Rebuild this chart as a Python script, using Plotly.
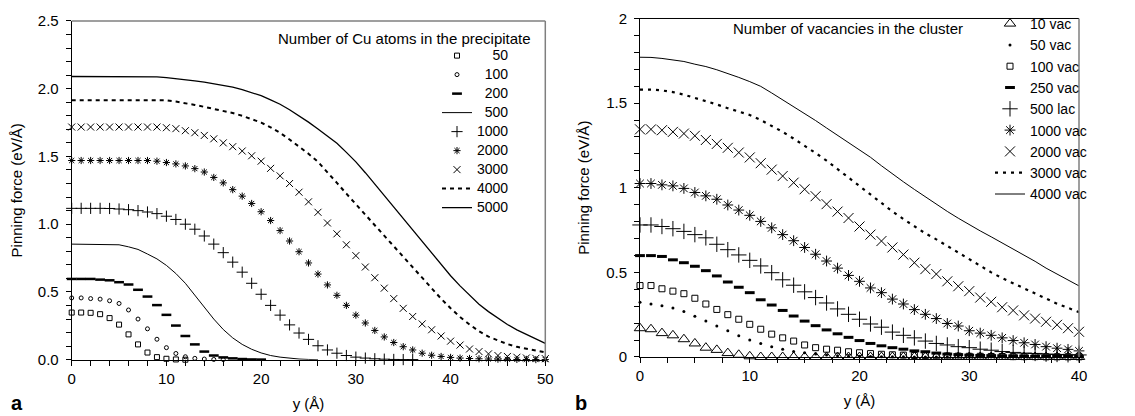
import plotly.graph_objects as go

# ---------------- data ----------------
# panel a: distance y (Å) and pinning force (eV/Å) for Cu precipitates
y_a = list(range(51))
cu_labels = ["50", "100", "200", "500", "1000", "2000", "3000", "4000", "5000"]
cu_50 = [0.348, 0.348, 0.346, 0.336, 0.307, 0.259, 0.187, 0.113, 0.053, 0.019, 0.007, 0.002, 0.0]
cu_100 = [0.456, 0.456, 0.451, 0.447, 0.435, 0.415, 0.367, 0.300, 0.228, 0.151, 0.089, 0.046, 0.022,
          0.010, 0.005, 0.002, 0.001]
cu_200 = [0.596, 0.596, 0.596, 0.591, 0.586, 0.572, 0.555, 0.516, 0.466, 0.403, 0.331, 0.252, 0.175,
          0.113, 0.060, 0.031, 0.017, 0.010, 0.005, 0.002, 0.001]
cu_500 = [0.853, 0.853, 0.852, 0.851, 0.850, 0.848, 0.833, 0.814, 0.780, 0.744, 0.696, 0.636, 0.564,
          0.473, 0.389, 0.300, 0.223, 0.161, 0.113, 0.077, 0.050, 0.031, 0.019, 0.010, 0.005, 0.002, 0.0]
cu_1000 = [1.117, 1.117, 1.117, 1.117, 1.116, 1.112, 1.107, 1.100, 1.090, 1.078, 1.059, 1.035, 1.000,
           0.963, 0.913, 0.853, 0.790, 0.720, 0.646, 0.564, 0.483, 0.401, 0.329, 0.257, 0.197, 0.150,
           0.103, 0.072, 0.048, 0.031, 0.019, 0.012, 0.007, 0.004, 0.002, 0.001, 0.001]
cu_2000 = [1.470, 1.470, 1.470, 1.470, 1.470, 1.470, 1.470, 1.470, 1.470, 1.465, 1.455, 1.445, 1.430,
           1.410, 1.385, 1.345, 1.305, 1.255, 1.207, 1.153, 1.092, 1.027, 0.953, 0.876, 0.797, 0.714,
           0.632, 0.552, 0.475, 0.401, 0.329, 0.271, 0.216, 0.168, 0.127, 0.096, 0.072, 0.048, 0.033,
           0.024, 0.017, 0.012, 0.009, 0.007, 0.005, 0.004, 0.003, 0.002, 0.002, 0.001, 0.001]
cu_3000 = [1.717, 1.717, 1.717, 1.717, 1.717, 1.717, 1.717, 1.717, 1.717, 1.717, 1.712, 1.705, 1.690,
           1.675, 1.655, 1.630, 1.600, 1.572, 1.540, 1.505, 1.465, 1.412, 1.357, 1.300, 1.236, 1.165,
           1.088, 1.009, 0.929, 0.848, 0.768, 0.684, 0.605, 0.528, 0.451, 0.379, 0.319, 0.264, 0.221,
           0.175, 0.137, 0.108, 0.079, 0.060, 0.043, 0.031, 0.024, 0.018, 0.013, 0.010, 0.008]
cu_4000 = [1.914, 1.914, 1.914, 1.914, 1.914, 1.914, 1.914, 1.914, 1.914, 1.914, 1.914, 1.905, 1.895,
           1.880, 1.866, 1.852, 1.837, 1.820, 1.800, 1.775, 1.750, 1.715, 1.674, 1.625, 1.575, 1.520,
           1.460, 1.385, 1.305, 1.225, 1.147, 1.070, 0.990, 0.910, 0.835, 0.755, 0.680, 0.600, 0.525,
           0.450, 0.380, 0.315, 0.260, 0.210, 0.170, 0.140, 0.115, 0.095, 0.080, 0.065, 0.055]
cu_5000 = [2.090, 2.090, 2.090, 2.090, 2.090, 2.090, 2.090, 2.090, 2.090, 2.087, 2.082, 2.075, 2.067,
           2.058, 2.048, 2.037, 2.025, 2.011, 1.993, 1.972, 1.948, 1.918, 1.885, 1.845, 1.800, 1.753,
           1.703, 1.652, 1.597, 1.530, 1.460, 1.380, 1.295, 1.210, 1.125, 1.040, 0.955, 0.870, 0.785,
           0.700, 0.620, 0.545, 0.475, 0.410, 0.355, 0.305, 0.260, 0.220, 0.185, 0.150, 0.120]

# panel b: vacancy clusters
y_b = list(range(41))
vac_labels = ["10 vac", "50 vac", "100 vac", "250 vac", "500 lac", "1000 vac", "2000 vac",
              "3000 vac", "4000 vac"]
vac_10 = [0.170, 0.164, 0.141, 0.128, 0.105, 0.080, 0.055, 0.042, 0.023, 0.013, 0.004] + [0.0] * 30
vac_50 = [0.323, 0.313, 0.303, 0.290, 0.269, 0.240, 0.212, 0.183, 0.155, 0.126, 0.101, 0.080, 0.061,
          0.046, 0.032, 0.025, 0.018, 0.012, 0.008, 0.005, 0.004, 0.003, 0.002, 0.002, 0.001] + [0.0] * 16
vac_100 = [0.422, 0.422, 0.403, 0.389, 0.374, 0.347, 0.313, 0.281, 0.250, 0.223, 0.193, 0.164, 0.135,
           0.113, 0.094, 0.071, 0.055, 0.046, 0.040, 0.031, 0.025, 0.020, 0.016, 0.013, 0.011, 0.009,
           0.008, 0.007, 0.006, 0.005, 0.004, 0.004, 0.003, 0.003, 0.002, 0.002, 0.002, 0.001, 0.001,
           0.001, 0.001]
vac_250 = [0.599, 0.599, 0.594, 0.574, 0.557, 0.536, 0.510, 0.479, 0.443, 0.412, 0.380, 0.338, 0.307,
           0.275, 0.242, 0.212, 0.185, 0.160, 0.137, 0.116, 0.097, 0.080, 0.066, 0.055, 0.046, 0.036,
           0.031, 0.023, 0.017, 0.014, 0.011, 0.009, 0.008, 0.007, 0.006, 0.005, 0.004, 0.004, 0.003,
           0.003, 0.002]
vac_500 = [0.780, 0.780, 0.771, 0.758, 0.742, 0.723, 0.704, 0.666, 0.634, 0.603, 0.571, 0.538, 0.498,
           0.456, 0.424, 0.385, 0.351, 0.319, 0.284, 0.252, 0.223, 0.195, 0.176, 0.147, 0.128, 0.113,
           0.094, 0.080, 0.071, 0.061, 0.055, 0.046, 0.040, 0.032, 0.027, 0.023, 0.021, 0.017, 0.015,
           0.013, 0.012]
vac_1000 = [1.025, 1.025, 1.017, 1.011, 0.996, 0.972, 0.952, 0.932, 0.898, 0.868, 0.837, 0.801, 0.763,
            0.723, 0.687, 0.647, 0.607, 0.567, 0.525, 0.482, 0.447, 0.408, 0.380, 0.342, 0.313, 0.280,
            0.252, 0.227, 0.198, 0.183, 0.155, 0.141, 0.128, 0.113, 0.097, 0.084, 0.074, 0.061, 0.052,
            0.045, 0.036]
vac_2000 = [1.345, 1.345, 1.340, 1.330, 1.320, 1.307, 1.282, 1.259, 1.236, 1.208, 1.179, 1.145, 1.107,
            1.069, 1.030, 0.991, 0.950, 0.903, 0.859, 0.821, 0.771, 0.723, 0.685, 0.647, 0.605, 0.557,
            0.519, 0.490, 0.447, 0.418, 0.389, 0.351, 0.326, 0.294, 0.275, 0.246, 0.227, 0.208, 0.190,
            0.170, 0.149]
vac_3000 = [1.580, 1.580, 1.575, 1.565, 1.550, 1.532, 1.512, 1.492, 1.470, 1.450, 1.430, 1.400, 1.365,
            1.330, 1.290, 1.250, 1.205, 1.160, 1.110, 1.060, 1.005, 0.955, 0.905, 0.860, 0.815, 0.770,
            0.730, 0.695, 0.655, 0.615, 0.575, 0.540, 0.500, 0.466, 0.435, 0.405, 0.375, 0.345, 0.315,
            0.290, 0.265]
vac_4000 = [1.771, 1.770, 1.764, 1.755, 1.746, 1.730, 1.716, 1.697, 1.676, 1.652, 1.627, 1.599, 1.560,
            1.520, 1.480, 1.440, 1.397, 1.353, 1.310, 1.267, 1.225, 1.180, 1.130, 1.080, 1.035, 0.990,
            0.945, 0.900, 0.860, 0.820, 0.780, 0.745, 0.710, 0.675, 0.640, 0.605, 0.565, 0.525, 0.490,
            0.455, 0.420]

# ---------------- layout helpers ----------------
# the page body keeps its default 8px margin, so the figure starts at (8, 8) in the window
OFF = 8
W, H = 1135 - OFF, 416 - OFF


def px(xp):   # window x pixel -> paper fraction
    return (xp - OFF) / W


def py(yp):   # window y pixel (from top) -> paper fraction
    return 1 - (yp - OFF) / H


FONT = "Arial, Liberation Sans, sans-serif"
K = "black"
FS = "\u2007"  # figure space, used to right-align numeric legend labels

left_series = [cu_50, cu_100, cu_200, cu_500, cu_1000, cu_2000, cu_3000, cu_4000, cu_5000]
left_styles = [
    dict(mode="markers", marker=dict(symbol="square-open", size=5, color=K, line=dict(width=1, color=K))),
    dict(mode="markers", marker=dict(symbol="circle-open", size=4, color=K, line=dict(width=1, color=K))),
    dict(mode="markers", marker=dict(symbol="line-ew-open", size=7, color=K, line=dict(width=2.5, color=K))),
    dict(mode="lines", line=dict(color=K, width=1)),
    dict(mode="markers", marker=dict(symbol="cross-thin-open", size=8, color=K, line=dict(width=1, color=K))),
    dict(mode="markers", marker=dict(symbol="asterisk-open", size=6, color=K, line=dict(width=1, color=K))),
    dict(mode="markers", marker=dict(symbol="x-thin-open", size=7, color=K, line=dict(width=1, color=K))),
    dict(mode="lines", line=dict(color=K, width=2, dash="4px,4px")),
    dict(mode="lines", line=dict(color=K, width=1.3)),
]

right_series = [vac_10, vac_50, vac_100, vac_250, vac_500, vac_1000, vac_2000, vac_3000, vac_4000]
right_styles = [
    dict(mode="markers", marker=dict(symbol="triangle-up-open", size=10, color=K, line=dict(width=1, color=K))),
    dict(mode="markers", marker=dict(symbol="circle", size=3, color=K, line=dict(width=0))),
    dict(mode="markers", marker=dict(symbol="square-open", size=6, color=K, line=dict(width=1, color=K))),
    dict(mode="markers", marker=dict(symbol="line-ew-open", size=7, color=K, line=dict(width=3, color=K))),
    dict(mode="markers", marker=dict(symbol="cross-thin-open", size=11, color=K, line=dict(width=1, color=K))),
    dict(mode="markers", marker=dict(symbol="asterisk-open", size=9, color=K, line=dict(width=1, color=K))),
    dict(mode="markers", marker=dict(symbol="x-thin-open", size=10, color=K, line=dict(width=1, color=K))),
    dict(mode="lines", line=dict(color=K, width=2.2, dash="3px,5px")),
    dict(mode="lines", line=dict(color=K, width=1)),
]

fig = go.Figure()

for lab, vals, st in zip(cu_labels, left_series, left_styles):
    pad = FS * (4 - len(lab))
    fig.add_trace(go.Scatter(x=y_a[:len(vals)], y=vals,
                             name='<span style="font-size:14px">' + pad + lab + "</span>",
                             xaxis="x", yaxis="y", legend="legend", cliponaxis=False, **st))

for i, (lab, vals, st) in enumerate(zip(vac_labels, right_series, right_styles)):
    fig.add_trace(go.Scatter(x=y_b[:len(vals)], y=vals, name=lab, xaxis="x2", yaxis="y2",
                             legend="legend2", legendgroup=f"v{i}", cliponaxis=False, **st))

axis_common = dict(showline=True, linecolor=K, linewidth=1, ticks="outside", ticklen=5, tickcolor=K,
                   showgrid=False, zeroline=False, automargin=False,
                   tickfont=dict(family=FONT, size=15, color=K))
title_font = dict(family=FONT, size=15, color=K)

fig.update_layout(
    width=W, height=H,
    margin=dict(l=0, r=0, t=0, b=0),
    paper_bgcolor="white", plot_bgcolor="white",
    font=dict(family=FONT, size=14, color=K),
    xaxis=dict(domain=[px(71.7), px(545.3)], anchor="y", range=[0, 50], dtick=10,
               minor=dict(dtick=2, ticks="outside", ticklen=5, tickcolor=K),
               title=dict(text="y (Å)", standoff=12, font=title_font),
               **axis_common),
    yaxis=dict(domain=[py(358.3), py(11)], anchor="x", range=[0, 2.5], dtick=0.5,
               tickformat=".1f", ticklabelstandoff=4,
               minor=dict(dtick=0.1, ticks="outside", ticklen=5, tickcolor=K),
               title=dict(text="Pinning force (eV/Å)", standoff=12, font=title_font),
               **axis_common),
    xaxis2=dict(domain=[px(640), px(1079)], anchor="y2", range=[0, 40], dtick=10,
                minor=dict(dtick=2.5, ticks="outside", ticklen=5, tickcolor=K),
                title=dict(text="y (Å)", standoff=12, font=title_font),
                **axis_common),
    yaxis2=dict(domain=[py(355.5), py(8.5)], anchor="x2", range=[0, 2], dtick=0.5,
                ticklabelstandoff=4,
                minor=dict(dtick=0.1, ticks="outside", ticklen=5, tickcolor=K),
                title=dict(text="Pinning force (eV/Å)", standoff=12, font=title_font),
                **axis_common),
    legend=dict(x=px(437), y=py(31.7), xanchor="left", yanchor="top", bgcolor="rgba(0,0,0,0)",
                font=dict(family=FONT, size=12, color=K), itemwidth=30, tracegroupgap=0),
    legend2=dict(x=px(990), y=py(-2.4), xanchor="left", yanchor="top", bgcolor="rgba(0,0,0,0)",
                 font=dict(family=FONT, size=14, color=K), itemwidth=30, tracegroupgap=0.1,
                 traceorder="grouped"),
    showlegend=True,
)

# frame lines (top/right) of both panels
fig.add_shape(type="line", xref="x domain", yref="y domain", x0=0, x1=1, y0=1, y1=1,
              line=dict(color="#7f7f7f", width=1.5))
fig.add_shape(type="line", xref="x domain", yref="y domain", x0=1, x1=1, y0=0, y1=1,
              line=dict(color="#7f7f7f", width=1.5))
fig.add_shape(type="line", xref="x2 domain", yref="y2 domain", x0=0, x1=1, y0=1, y1=1,
              line=dict(color=K, width=1))
fig.add_shape(type="line", xref="x2 domain", yref="y2 domain", x0=1, x1=1, y0=0, y1=1,
              line=dict(color="#7f7f7f", width=1.5))

# legend headings and panel letters
fig.add_annotation(text="Number of Cu atoms in the precipitate", xref="paper", yref="paper",
                   x=px(533), y=py(29.3), xanchor="right", yanchor="middle", showarrow=False,
                   font=dict(family=FONT, size=15, color=K))
fig.add_annotation(text="Number of vacancies in the cluster", xref="paper", yref="paper",
                   x=px(965), y=py(19), xanchor="right", yanchor="middle", showarrow=False,
                   font=dict(family=FONT, size=15, color=K))
fig.add_annotation(text="<b>a</b>", xref="paper", yref="paper", x=px(9), y=py(403),
                   xanchor="left", yanchor="middle", showarrow=False,
                   font=dict(family=FONT, size=20, color=K))
fig.add_annotation(text="<b>b</b>", xref="paper", yref="paper", x=px(581), y=py(403),
                   xanchor="center", yanchor="middle", showarrow=False,
                   font=dict(family=FONT, size=20, color=K))

fig.write_html("out.html")
